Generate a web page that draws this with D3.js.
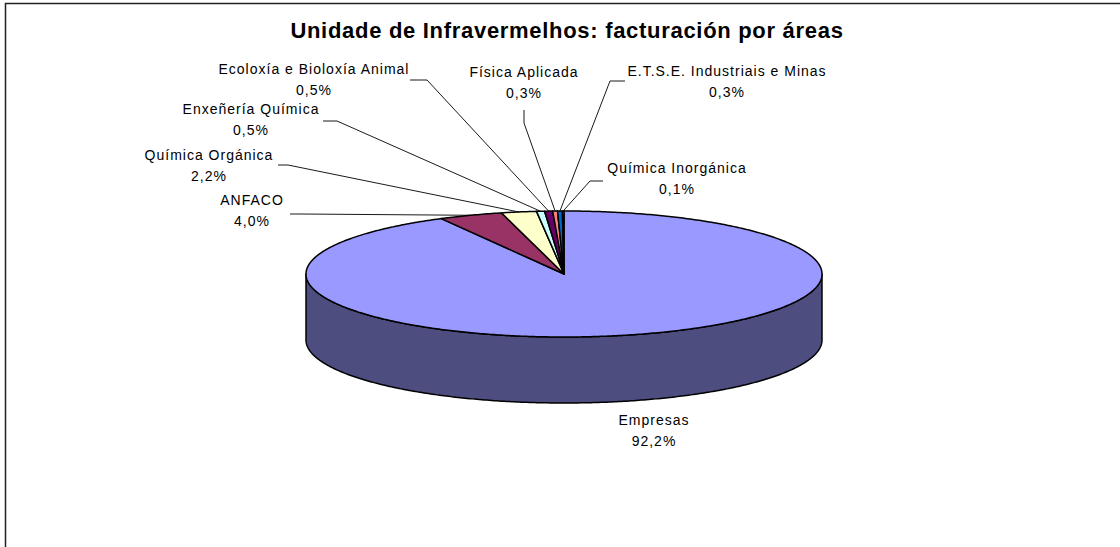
<!DOCTYPE html>
<html>
<head>
<meta charset="utf-8">
<script src="https://cdn.jsdelivr.net/npm/d3@7"></script>
<style>
  body { margin: 0; background: white; }
  svg { display: block; }
</style>
</head>
<body>
<script>
// data
const categories = ["Empresas", "ANFACO", "Química Orgánica", "Enxeñería Química",
                    "Ecoloxía e Bioloxía Animal", "Física Aplicada",
                    "E.T.S.E. Industriais e Minas", "Química Inorgánica"];
const values = [92.2, 4.0, 2.2, 0.5, 0.5, 0.3, 0.3, 0.1];
const colors = ["#9999ff", "#993366", "#ffffcc", "#ccffff", "#660066", "#ff8080", "#0066cc", "#ccccff"];
const titleText = "Unidade de Infravermelhos: facturación por áreas";

// label placement (layout only): text centre x, first baseline y, leader start + elbow
const labelLayout = {
    "Empresas":                     { x: 654, y: 425, line: null },
    "ANFACO":                       { x: 252, y: 205, line: [[290, 214], [300, 214]] },
    "Química Orgánica":             { x: 209, y: 160, line: [[278, 165], [288, 165]] },
    "Enxeñería Química":            { x: 251, y: 114, line: [[323, 121], [337, 121]] },
    "Ecoloxía e Bioloxía Animal":   { x: 314, y: 74,  line: [[410, 80], [427, 80]] },
    "Física Aplicada":              { x: 524, y: 77,  line: [[524, 110], [524, 123]] },
    "E.T.S.E. Industriais e Minas": { x: 727, y: 76,  line: [[625, 81], [610, 81]] },
    "Química Inorgánica":           { x: 677, y: 173, line: [[603, 181], [590, 181]] }
};

const width = 1120, height = 547;
const cx = 564, cy = 274, rx = 258, ry = 63, depth = 66;
const font = "'Liberation Sans', Arial, sans-serif";

let svg = d3.select("body").append("svg")
            .attr("width", width)
            .attr("height", height);

svg.append("rect")
   .attr("width", width)
   .attr("height", height)
   .attr("fill", "white");

// chart frame (only top and left visible)
svg.append("path")
   .attr("d", "M5.5," + height + " L5.5,3.5 L" + width + ",3.5")
   .attr("fill", "none")
   .attr("stroke", "#222")
   .attr("stroke-width", 1.5);

svg.append("text")
   .attr("x", 567)
   .attr("y", 38)
   .attr("text-anchor", "middle")
   .attr("font-family", font)
   .attr("font-weight", "bold")
   .attr("font-size", "22px")
   .attr("letter-spacing", "0.7px")
   .attr("fill", "black")
   .text(titleText);

let pie = d3.pie().sort(null).value(d => d)
            .startAngle(0).endAngle(2 * Math.PI);
let arcs = pie(values);

function pt(a, dy) {
    return [cx + rx * Math.sin(a), cy - ry * Math.cos(a) + (dy || 0)];
}

function arcPoints(a0, a1, dy) {
    let n = Math.max(2, Math.ceil((a1 - a0) / 0.01));
    let pts = [];
    for (let i = 0; i <= n; i++) pts.push(pt(a0 + (a1 - a0) * i / n, dy));
    return pts;
}

let line = d3.line();
let sideColor = c => {
    let r = d3.rgb(c);
    return d3.rgb(r.r * 0.5, r.g * 0.5, r.b * 0.5).formatHex();
};

// side walls, only the front half (angles PI/2 .. 3PI/2) is seen
let sides = svg.append("g");
arcs.forEach((a, i) => {
    let s = Math.max(a.startAngle, Math.PI / 2);
    let e = Math.min(a.endAngle, 3 * Math.PI / 2);
    if (e <= s) return;
    let top = arcPoints(s, e, 0);
    let bottom = arcPoints(s, e, depth).reverse();
    sides.append("path")
         .attr("d", line(top.concat(bottom)) + "Z")
         .attr("fill", sideColor(colors[i]))
         .attr("stroke", "black")
         .attr("stroke-width", 1.5)
         .attr("stroke-linejoin", "round");
});

// top face
let tops = svg.append("g");
arcs.forEach((a, i) => {
    let pts = [[cx, cy]].concat(arcPoints(a.startAngle, a.endAngle, 0));
    tops.append("path")
        .attr("d", line(pts) + "Z")
        .attr("fill", colors[i])
        .attr("stroke", "black")
        .attr("stroke-width", 1.5)
        .attr("stroke-linejoin", "round");
});

// labels with leader lines
let fmt = v => d3.format(".1f")(v).replace(".", ",") + "%";
let labels = svg.append("g");
arcs.forEach((a, i) => {
    let lay = labelLayout[categories[i]];
    if (lay.line) {
        let mid = (a.startAngle + a.endAngle) / 2;
        let pts = lay.line.concat([pt(mid, 0)]);
        labels.append("path")
              .attr("d", line(pts))
              .attr("fill", "none")
              .attr("stroke", "black")
              .attr("stroke-width", 0.9);
    }
    let t = labels.append("text")
                  .attr("text-anchor", "middle")
                  .attr("font-family", font)
                  .attr("font-size", "14px")
                  .attr("letter-spacing", "1px")
                  .attr("fill", "black");
    t.append("tspan").attr("x", lay.x).attr("y", lay.y).text(categories[i]);
    t.append("tspan").attr("x", lay.x).attr("y", lay.y + 20.5).text(fmt(values[i]));
});
</script>
</body>
</html>
